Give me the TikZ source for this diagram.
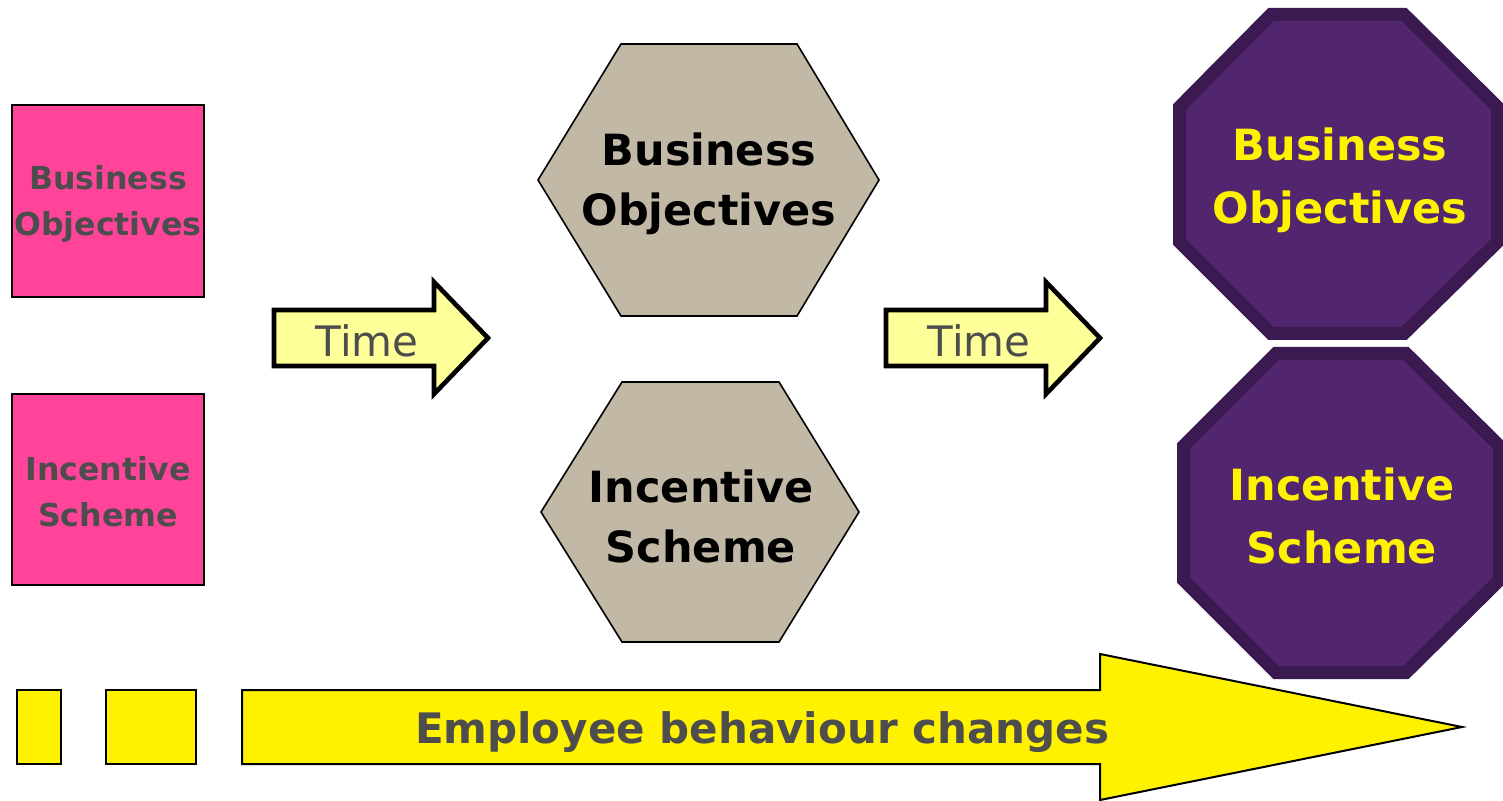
\documentclass[tikz,border=0pt]{standalone}
\usepackage{fontspec}
\setmainfont{DejaVu Sans}
\definecolor{hotpink}{HTML}{FF4499}
\definecolor{paleyellow}{HTML}{FFFF99}
\definecolor{stone}{HTML}{C2B8A6}
\definecolor{plum}{HTML}{52266F}
\definecolor{darkplum}{HTML}{3A1A50}
\definecolor{greytext}{HTML}{4D4D4D}
\tikzset{
  oldbox/.style={draw=black,line width=1pt,fill=hotpink},
  oldtext/.style={align=center,text=greytext,font=\fontsize{15.8}{23}\selectfont\bfseries},
  timearrow/.style={draw=black,line width=2.3pt,fill=paleyellow,line join=miter},
  timetext/.style={text=greytext,font=\fontsize{21}{25}\selectfont},
  hexbox/.style={draw=black,line width=0.8pt,fill=stone},
  hextext/.style={align=center,text=black,font=\fontsize{21.5}{30}\selectfont\bfseries},
  octbox/.style={draw=darkplum,line width=6.5pt,fill=plum},
  octtext/.style={align=center,text=yellow,font=\fontsize{21.5}{31.5}\selectfont\bfseries},
  stagebox/.style={draw=black,line width=1pt,fill=yellow}
}
\begin{document}
\begin{tikzpicture}[x=0.5pt,y=-0.5pt]
\useasboundingbox (0,0) rectangle (1503,801);

% first stage: plain squares
\draw[oldbox] (12,105) rectangle (204,297);
\node[oldtext] (obj1) at (108,204) {Business\\Objectives};
\draw[oldbox] (12,394) rectangle (204,585);
\node[oldtext] (inc1) at (108,492) {Incentive\\Scheme};

% time arrows
\draw[timearrow] (274,310) -- (434,310) -- (434,282) -- (488,338)
  -- (434,394) -- (434,366) -- (274,366) -- cycle;
\node[timetext] (time1) at (367,341) {Time};
\draw[timearrow] (886,310) -- (1046,310) -- (1046,282) -- (1100,338)
  -- (1046,394) -- (1046,366) -- (886,366) -- cycle;
\node[timetext] (time2) at (979,341) {Time};

% second stage: hexagons
\draw[hexbox] (538,180) -- (621,44) -- (797,44) -- (879,180)
  -- (797,316) -- (621,316) -- cycle;
\node[hextext] (obj2) at (709,184) {Business\\Objectives};
\draw[hexbox] (541,512) -- (622,382) -- (779,382) -- (859,512)
  -- (779,642) -- (622,642) -- cycle;
\node[hextext] (inc2) at (701,516) {Incentive\\Scheme};

% third stage: octagons
\draw[octbox] (1179.5,107) -- (1179.5,242) -- (1271,333.5) -- (1404,333.5)
  -- (1497.5,242) -- (1497.5,107) -- (1404,14.5) -- (1271,14.5) -- cycle;
\node[octtext] (obj3) at (1340,180) {Business\\Objectives};
\draw[octbox] (1183.5,446) -- (1183.5,580) -- (1276,672.5) -- (1406,672.5)
  -- (1499.5,580) -- (1499.5,446) -- (1406,353.5) -- (1276,353.5) -- cycle;
\node[octtext] (inc3) at (1342,516) {Incentive\\Scheme};

% behaviour arrow along the bottom
\draw[stagebox] (17,690) rectangle (61,764);
\draw[stagebox] (106,690) rectangle (196,764);
\draw[stagebox] (242,690) -- (1100,690) -- (1100,654) -- (1462,727)
  -- (1100,800) -- (1100,764) -- (242,764) -- cycle;
\node[text=greytext,font=\fontsize{21}{25}\selectfont\bfseries] (change) at (762,732)
  {Employee behaviour changes};
\end{tikzpicture}
\end{document}
